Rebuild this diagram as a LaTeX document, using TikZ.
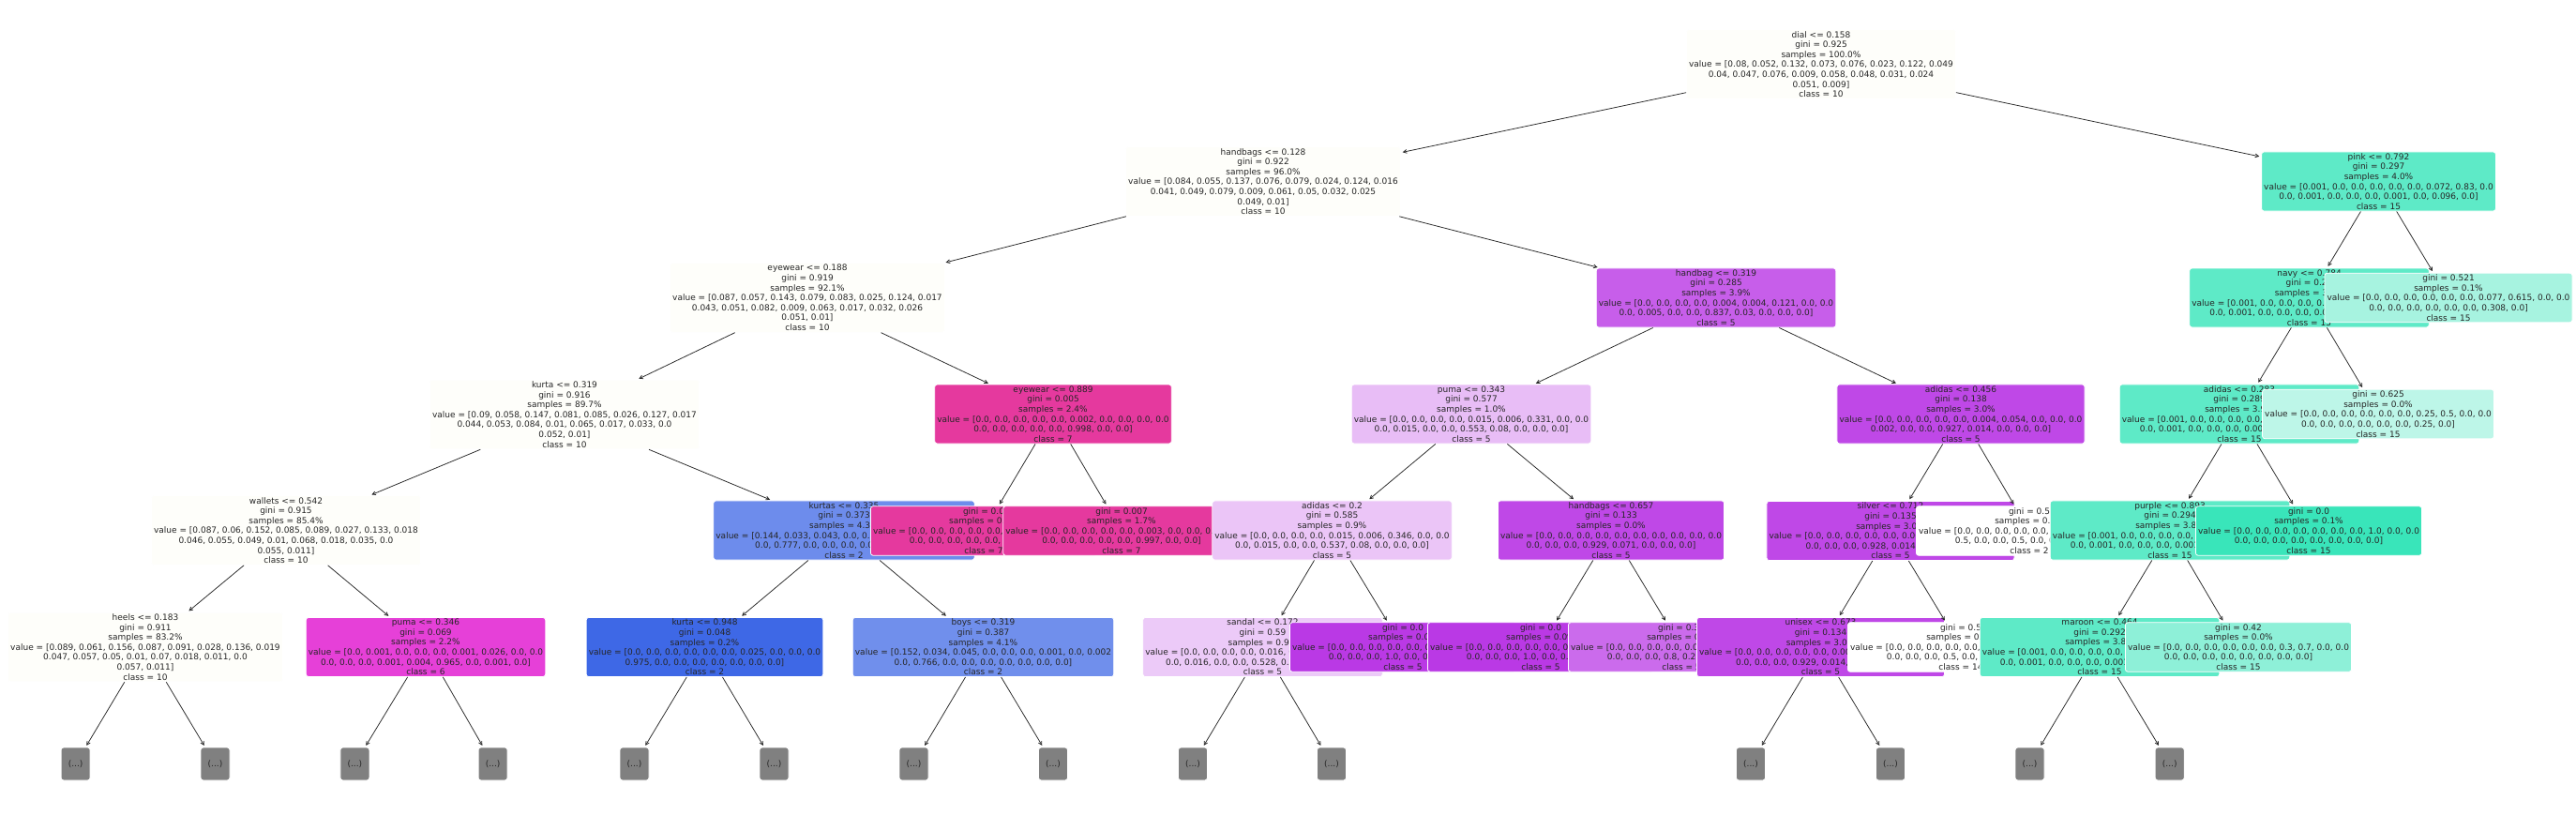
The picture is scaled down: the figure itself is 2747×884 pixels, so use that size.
\documentclass[tikz,border=0pt]{standalone}
\usepackage{fontspec}
\setmainfont{DejaVu Sans}
\usetikzlibrary{arrows.meta}
\definecolor{txt}{RGB}{38,38,38}
\definecolor{lgrey}{RGB}{128,128,128}
\definecolor{cten}{RGB}{254,254,250}
\definecolor{csix}{RGB}{230,64,216}
\definecolor{ctwoa}{RGB}{109,140,236}
\definecolor{ctwob}{RGB}{62,104,230}
\definecolor{ctwoc}{RGB}{112,143,236}
\definecolor{cseven}{RGB}{229,57,158}
\definecolor{cfive}{RGB}{186,57,229}
\definecolor{cfivea}{RGB}{199,94,234}
\definecolor{cfiveb}{RGB}{232,189,246}
\definecolor{cfivec}{RGB}{235,197,247}
\definecolor{cfived}{RGB}{236,202,248}
\definecolor{cfivee}{RGB}{191,72,231}
\definecolor{cfivef}{RGB}{203,107,236}
\definecolor{cfift}{RGB}{57,229,186}
\definecolor{cfifta}{RGB}{94,234,199}
\definecolor{cfiftb}{RGB}{142,240,216}
\definecolor{cfiftc}{RGB}{189,246,232}
\definecolor{cfiftd}{RGB}{167,243,224}
\newcommand\nf{\fontsize{9}{10.6}\selectfont}
\begin{document}
\begin{tikzpicture}[x=1pt,y=-1pt,
 nd/.style={draw=white, line width=0.8pt, rounded corners=2.7pt, inner xsep=2.6pt, inner ysep=1.6pt, align=center, font=\nf, text=txt},
 arr/.style={draw=txt, line width=0.75pt, -{Straight Barb[length=3.6pt,width=3.8pt]}, shorten >=2pt},
 lf/.style={nd, fill=lgrey, minimum width=31pt, minimum height=35pt, inner sep=0pt}]
\fill[white] (0,0) rectangle (2747,884);
\useasboundingbox (0,0) rectangle (2747,884);

% root
\node[nd, fill=cten] (root) at (1942,68.5) {dial <= 0.158\\gini = 0.925\\samples = 100.0\%\\value = [0.08, 0.052, 0.132, 0.073, 0.076, 0.023, 0.122, 0.049\\0.04, 0.047, 0.076, 0.009, 0.058, 0.048, 0.031, 0.024\\0.051, 0.009]\\class = 10};

\node[nd, fill=cten] (hb128) at (1347,193.5) {handbags <= 0.128\\gini = 0.922\\samples = 96.0\%\\value = [0.084, 0.055, 0.137, 0.076, 0.079, 0.024, 0.124, 0.016\\0.041, 0.049, 0.079, 0.009, 0.061, 0.05, 0.032, 0.025\\0.049, 0.01]\\class = 10};
\draw[arr] (root) -- (hb128);

\node[nd, fill=cten] (ey188) at (861,317.5) {eyewear <= 0.188\\gini = 0.919\\samples = 92.1\%\\value = [0.087, 0.057, 0.143, 0.079, 0.083, 0.025, 0.124, 0.017\\0.043, 0.051, 0.082, 0.009, 0.063, 0.017, 0.032, 0.026\\0.051, 0.01]\\class = 10};
\draw[arr] (hb128) -- (ey188);

\node[nd, fill=cten] (ku319) at (602,442) {kurta <= 0.319\\gini = 0.916\\samples = 89.7\%\\value = [0.09, 0.058, 0.147, 0.081, 0.085, 0.026, 0.127, 0.017\\0.044, 0.053, 0.084, 0.01, 0.065, 0.017, 0.033, 0.0\\0.052, 0.01]\\class = 10};
\draw[arr] (ey188) -- (ku319);

\node[nd, fill=cten] (wa542) at (305,565.5) {wallets <= 0.542\\gini = 0.915\\samples = 85.4\%\\value = [0.087, 0.06, 0.152, 0.085, 0.089, 0.027, 0.133, 0.018\\0.046, 0.055, 0.049, 0.01, 0.068, 0.018, 0.035, 0.0\\0.055, 0.011]\\class = 10};
\draw[arr] (ku319) -- (wa542);

\node[nd, fill=cten] (he183) at (155,690) {heels <= 0.183\\gini = 0.911\\samples = 83.2\%\\value = [0.089, 0.061, 0.156, 0.087, 0.091, 0.028, 0.136, 0.019\\0.047, 0.057, 0.05, 0.01, 0.07, 0.018, 0.011, 0.0\\0.057, 0.011]\\class = 10};
\draw[arr] (wa542) -- (he183);
\node[lf] (la) at (80.6,814.5) {(...)};
\draw[arr] (he183) -- (la);
\node[lf] (lb) at (229.5,814.5) {(...)};
\draw[arr] (he183) -- (lb);

\node[nd, fill=csix] (pu346) at (454,690) {puma <= 0.346\\gini = 0.069\\samples = 2.2\%\\value = [0.0, 0.001, 0.0, 0.0, 0.0, 0.001, 0.026, 0.0, 0.0\\0.0, 0.0, 0.0, 0.001, 0.004, 0.965, 0.0, 0.001, 0.0]\\class = 6};
\draw[arr] (wa542) -- (pu346);
\node[lf] (lc) at (378.4,814.5) {(...)};
\draw[arr] (pu346) -- (lc);
\node[lf] (ld) at (525.6,814.5) {(...)};
\draw[arr] (pu346) -- (ld);

\node[nd, fill=ctwoa] (ks335) at (900,565.5) {kurtas <= 0.335\\gini = 0.373\\samples = 4.3\%\\value = [0.144, 0.033, 0.043, 0.0, 0.0, 0.0, 0.001, 0.0, 0.002\\0.0, 0.777, 0.0, 0.0, 0.0, 0.0, 0.0, 0.0, 0.0]\\class = 2};
\draw[arr] (ku319) -- (ks335);

\node[nd, fill=ctwob] (ku948) at (751.5,690) {kurta <= 0.948\\gini = 0.048\\samples = 0.2\%\\value = [0.0, 0.0, 0.0, 0.0, 0.0, 0.0, 0.025, 0.0, 0.0, 0.0\\0.975, 0.0, 0.0, 0.0, 0.0, 0.0, 0.0, 0.0]\\class = 2};
\draw[arr] (ks335) -- (ku948);
\node[lf] (le) at (676.5,814.5) {(...)};
\draw[arr] (ku948) -- (le);
\node[lf] (lf) at (825.5,814.5) {(...)};
\draw[arr] (ku948) -- (lf);

\node[nd, fill=ctwoc] (bo319) at (1048.5,690) {boys <= 0.319\\gini = 0.387\\samples = 4.1\%\\value = [0.152, 0.034, 0.045, 0.0, 0.0, 0.0, 0.001, 0.0, 0.002\\0.0, 0.766, 0.0, 0.0, 0.0, 0.0, 0.0, 0.0, 0.0]\\class = 2};
\draw[arr] (ks335) -- (bo319);
\node[lf] (lg) at (974.5,814.5) {(...)};
\draw[arr] (bo319) -- (lg);
\node[lf] (lh) at (1123,814.5) {(...)};
\draw[arr] (bo319) -- (lh);

\node[nd, fill=cseven] (ey889) at (1123,441.5) {eyewear <= 0.889\\gini = 0.005\\samples = 2.4\%\\value = [0.0, 0.0, 0.0, 0.0, 0.0, 0.002, 0.0, 0.0, 0.0, 0.0\\0.0, 0.0, 0.0, 0.0, 0.0, 0.998, 0.0, 0.0]\\class = 7};
\draw[arr] (ey188) -- (ey889);

\node[nd, fill=cseven] (gsa) at (1049,566) {gini = 0.0\\samples = 0.7\%\\value = [0.0, 0.0, 0.0, 0.0, 0.0, 0.0, 0.0, 0.0, 0.0, 0.0\\0.0, 0.0, 0.0, 0.0, 0.0, 1.0, 0.0, 0.0]\\class = 7};
\draw[arr] (ey889) -- (gsa);
\node[nd, fill=cseven] (gsb) at (1196,566) {gini = 0.007\\samples = 1.7\%\\value = [0.0, 0.0, 0.0, 0.0, 0.0, 0.003, 0.0, 0.0, 0.0, 0.0\\0.0, 0.0, 0.0, 0.0, 0.0, 0.997, 0.0, 0.0]\\class = 7};
\draw[arr] (ey889) -- (gsb);

\node[nd, fill=cfivea] (hg319) at (1830,317.5) {handbag <= 0.319\\gini = 0.285\\samples = 3.9\%\\value = [0.0, 0.0, 0.0, 0.0, 0.004, 0.004, 0.121, 0.0, 0.0\\0.0, 0.005, 0.0, 0.0, 0.837, 0.03, 0.0, 0.0, 0.0]\\class = 5};
\draw[arr] (hb128) -- (hg319);

\node[nd, fill=cfiveb] (pu343) at (1569,441.5) {puma <= 0.343\\gini = 0.577\\samples = 1.0\%\\value = [0.0, 0.0, 0.0, 0.0, 0.015, 0.006, 0.331, 0.0, 0.0\\0.0, 0.015, 0.0, 0.0, 0.553, 0.08, 0.0, 0.0, 0.0]\\class = 5};
\draw[arr] (hg319) -- (pu343);

\node[nd, fill=cfivec] (ad02) at (1420.5,565.5) {adidas <= 0.2\\gini = 0.585\\samples = 0.9\%\\value = [0.0, 0.0, 0.0, 0.0, 0.015, 0.006, 0.346, 0.0, 0.0\\0.0, 0.015, 0.0, 0.0, 0.537, 0.08, 0.0, 0.0, 0.0]\\class = 5};
\draw[arr] (pu343) -- (ad02);

\node[nd, fill=cfived] (sa172) at (1346.5,690) {sandal <= 0.172\\gini = 0.59\\samples = 0.9\%\\value = [0.0, 0.0, 0.0, 0.0, 0.016, 0.006, 0.355, 0.0, 0.0\\0.0, 0.016, 0.0, 0.0, 0.528, 0.08, 0.0, 0.0, 0.0]\\class = 5};
\draw[arr] (ad02) -- (sa172);
\node[lf] (li) at (1272,814.5) {(...)};
\draw[arr] (sa172) -- (li);
\node[lf] (lj) at (1420,814.5) {(...)};
\draw[arr] (sa172) -- (lj);

\node[nd, fill=cfive] (gfa) at (1496,690) {gini = 0.0\\samples = 0.0\%\\value = [0.0, 0.0, 0.0, 0.0, 0.0, 0.0, 0.0, 0.0, 0.0, 0.0\\0.0, 0.0, 0.0, 1.0, 0.0, 0.0, 0.0, 0.0]\\class = 5};
\draw[arr] (ad02) -- (gfa);

\node[nd, fill=cfivee] (hb657) at (1718,565.5) {handbags <= 0.657\\gini = 0.133\\samples = 0.0\%\\value = [0.0, 0.0, 0.0, 0.0, 0.0, 0.0, 0.0, 0.0, 0.0, 0.0\\0.0, 0.0, 0.0, 0.929, 0.071, 0.0, 0.0, 0.0]\\class = 5};
\draw[arr] (pu343) -- (hb657);

\node[nd, fill=cfive] (gfb) at (1643,690) {gini = 0.0\\samples = 0.0\%\\value = [0.0, 0.0, 0.0, 0.0, 0.0, 0.0, 0.0, 0.0, 0.0, 0.0\\0.0, 0.0, 0.0, 1.0, 0.0, 0.0, 0.0, 0.0]\\class = 5};
\draw[arr] (hb657) -- (gfb);
\node[nd, fill=cfivef] (gfc) at (1793,690) {gini = 0.32\\samples = 0.0\%\\value = [0.0, 0.0, 0.0, 0.0, 0.0, 0.0, 0.0, 0.0, 0.0, 0.0\\0.0, 0.0, 0.0, 0.8, 0.2, 0.0, 0.0, 0.0]\\class = 5};
\draw[arr] (hb657) -- (gfc);

\node[nd, fill=cfivee] (ad456) at (2091,441.5) {adidas <= 0.456\\gini = 0.138\\samples = 3.0\%\\value = [0.0, 0.0, 0.0, 0.0, 0.0, 0.004, 0.054, 0.0, 0.0, 0.0\\0.002, 0.0, 0.0, 0.927, 0.014, 0.0, 0.0, 0.0]\\class = 5};
\draw[arr] (hg319) -- (ad456);

\node[nd, fill=cfivee] (si7) at (2016,566) {silver <= 0.712\\gini = 0.135\\samples = 3.0\%\\value = [0.0, 0.0, 0.0, 0.0, 0.0, 0.004, 0.054, 0.0, 0.0, 0.0\\0.0, 0.0, 0.0, 0.928, 0.014, 0.0, 0.0, 0.0]\\class = 5};
\draw[arr] (ad456) -- (si7);

\node[nd, fill=cfivee] (un673) at (1941.5,690) {unisex <= 0.673\\gini = 0.134\\samples = 3.0\%\\value = [0.0, 0.0, 0.0, 0.0, 0.0, 0.004, 0.053, 0.0, 0.0, 0.0\\0.0, 0.0, 0.0, 0.929, 0.014, 0.0, 0.0, 0.0]\\class = 5};
\draw[arr] (si7) -- (un673);
\node[lf] (lk) at (1867,814.5) {(...)};
\draw[arr] (un673) -- (lk);
\node[lf] (ll) at (2016,814.5) {(...)};
\draw[arr] (un673) -- (ll);

\node[nd, fill=white] (gha) at (2091,690) {gini = 0.5\\samples = 0.0\%\\value = [0.0, 0.0, 0.0, 0.0, 0.0, 0.0, 0.0, 0.0, 0.0, 0.0\\0.0, 0.0, 0.0, 0.5, 0.0, 0.0, 0.5, 0.0]\\class = 14};
\draw[arr] (si7) -- (gha);

\node[nd, fill=white] (ghb) at (2164,566) {gini = 0.5\\samples = 0.0\%\\value = [0.0, 0.0, 0.0, 0.0, 0.0, 0.0, 0.0, 0.0, 0.0, 0.0\\0.5, 0.0, 0.0, 0.5, 0.0, 0.0, 0.0, 0.0]\\class = 2};
\draw[arr] (ad456) -- (ghb);

% right subtree
\node[nd, fill=cfifta] (pink) at (2536.5,193.5) {pink <= 0.792\\gini = 0.297\\samples = 4.0\%\\value = [0.001, 0.0, 0.0, 0.0, 0.0, 0.0, 0.072, 0.83, 0.0\\0.0, 0.001, 0.0, 0.0, 0.0, 0.001, 0.0, 0.096, 0.0]\\class = 15};
\draw[arr] (root) -- (pink);

\node[nd, fill=cfifta] (navy) at (2462.5,317.5) {navy <= 0.784\\gini = 0.28\\samples = 3.9\%\\value = [0.001, 0.0, 0.0, 0.0, 0.0, 0.0, 0.072, 0.832, 0.0\\0.0, 0.001, 0.0, 0.0, 0.0, 0.001, 0.0, 0.094, 0.0]\\class = 15};
\draw[arr] (pink) -- (navy);

\node[nd, fill=cfifta] (ad283) at (2388,441.5) {adidas <= 0.283\\gini = 0.289\\samples = 3.9\%\\value = [0.001, 0.0, 0.0, 0.0, 0.0, 0.0, 0.072, 0.833, 0.0\\0.0, 0.001, 0.0, 0.0, 0.0, 0.001, 0.0, 0.093, 0.0]\\class = 15};
\draw[arr] (navy) -- (ad283);

\node[nd, fill=cfifta] (purp) at (2314,565.5) {purple <= 0.893\\gini = 0.294\\samples = 3.8\%\\value = [0.001, 0.0, 0.0, 0.0, 0.0, 0.0, 0.073, 0.831, 0.0\\0.0, 0.001, 0.0, 0.0, 0.0, 0.001, 0.0, 0.094, 0.0]\\class = 15};
\draw[arr] (ad283) -- (purp);

\node[nd, fill=cfifta] (ma464) at (2239,690) {maroon <= 0.464\\gini = 0.292\\samples = 3.8\%\\value = [0.001, 0.0, 0.0, 0.0, 0.0, 0.0, 0.072, 0.832, 0.0\\0.0, 0.001, 0.0, 0.0, 0.0, 0.001, 0.0, 0.094, 0.0]\\class = 15};
\draw[arr] (purp) -- (ma464);
\node[lf] (lm) at (2164.5,814.5) {(...)};
\draw[arr] (ma464) -- (lm);
\node[lf] (ln) at (2313.7,814.5) {(...)};
\draw[arr] (ma464) -- (ln);

\node[nd, fill=cfiftb] (g042) at (2387,690) {gini = 0.42\\samples = 0.0\%\\value = [0.0, 0.0, 0.0, 0.0, 0.0, 0.0, 0.3, 0.7, 0.0, 0.0\\0.0, 0.0, 0.0, 0.0, 0.0, 0.0, 0.0, 0.0]\\class = 15};
\draw[arr] (purp) -- (g042);

\node[nd, fill=cfift] (gfz) at (2462,566) {gini = 0.0\\samples = 0.1\%\\value = [0.0, 0.0, 0.0, 0.0, 0.0, 0.0, 0.0, 1.0, 0.0, 0.0\\0.0, 0.0, 0.0, 0.0, 0.0, 0.0, 0.0, 0.0]\\class = 15};
\draw[arr] (ad283) -- (gfz);

\node[nd, fill=cfiftc] (g0625) at (2536,441.5) {gini = 0.625\\samples = 0.0\%\\value = [0.0, 0.0, 0.0, 0.0, 0.0, 0.0, 0.25, 0.5, 0.0, 0.0\\0.0, 0.0, 0.0, 0.0, 0.0, 0.0, 0.25, 0.0]\\class = 15};
\draw[arr] (navy) -- (g0625);

\node[nd, fill=cfiftd] (g0521) at (2611,317.5) {gini = 0.521\\samples = 0.1\%\\value = [0.0, 0.0, 0.0, 0.0, 0.0, 0.0, 0.077, 0.615, 0.0, 0.0\\0.0, 0.0, 0.0, 0.0, 0.0, 0.0, 0.308, 0.0]\\class = 15};
\draw[arr] (pink) -- (g0521);
\end{tikzpicture}
\end{document}
